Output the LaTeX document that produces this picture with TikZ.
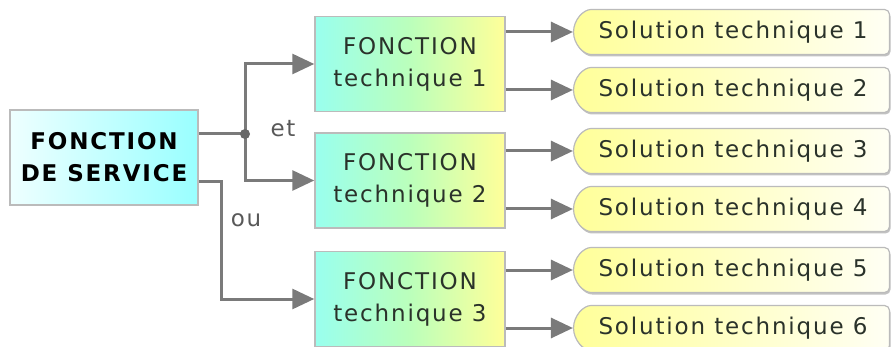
\documentclass[tikz,border=0pt]{standalone}
\usepackage{fontspec}
\usepackage{tikz}
\usetikzlibrary{arrows.meta,shapes.misc,shadows}
\newfontfamily\boxfont[LetterSpace=8]{DejaVu Sans}

\definecolor{svcL}{HTML}{EEFFFF}
\definecolor{svcR}{HTML}{99FFFF}
\definecolor{techA}{HTML}{99FFEE}
\definecolor{techB}{HTML}{BBFFBB}
\definecolor{techC}{HTML}{FFFF99}
\definecolor{solA}{HTML}{FFFF99}
\definecolor{solB}{HTML}{FFFFF4}
\definecolor{boxline}{HTML}{BBBBBB}
\definecolor{linkgray}{HTML}{7A7A7A}
\definecolor{inkgray}{HTML}{2A322A}

% cyan -> green -> yellow, the path covers 25bp..75bp
\pgfdeclarehorizontalshading{techshade}{100bp}{color(0bp)=(techA); color(25bp)=(techA);
  color(50bp)=(techB); color(75bp)=(techC); color(100bp)=(techC)}

\begin{document}
\begin{tikzpicture}[x=1pt,y=-1pt,
    every node/.style={font=\boxfont\fontsize{23}{32}\selectfont, align=center, inner sep=0pt, text=inkgray},
    fonction/.style={draw=boxline, line width=1.5pt, minimum width=190pt, minimum height=95pt, shading=techshade},
    service/.style={fonction, minimum width=188pt, left color=svcL, right color=svcR, text=black,
      font=\boxfont\bfseries\fontsize{23}{32}\selectfont},
    solution/.style={rounded rectangle, rounded rectangle right arc=none, rounded corners=5pt,
      draw=boxline, line width=1.2pt, minimum width=316pt, minimum height=45pt,
      left color=solA, right color=solB,
      drop shadow={shadow xshift=1pt, shadow yshift=-2pt, fill=boxline, opacity=0.9}},
    wire/.style={draw=linkgray, line width=3pt},
    link/.style={wire, -{Triangle[length=22pt,width=20pt]}},
    lbl/.style={text=black!65}]
  \useasboundingbox (0,0) rectangle (893,347);

  \node[service] (svc) at (104,157.5) {FONCTION\\DE SERVICE};

  \node[fonction] (t1) at (410,64) {FONCTION\\technique 1};
  \node[fonction] (t2) at (410,180.5) {FONCTION\\technique 2};
  \node[fonction] (t3) at (410,299) {FONCTION\\technique 3};

  \node[solution] (s1) at (733,32) {Solution technique 1};
  \node[solution] (s2) at (733,90) {Solution technique 2};
  \node[solution] (s3) at (733,151) {Solution technique 3};
  \node[solution] (s4) at (733,209) {Solution technique 4};
  \node[solution] (s5) at (733,270) {Solution technique 5};
  \node[solution] (s6) at (733,328) {Solution technique 6};

  % "et" branch
  \coordinate (j) at (245,134);
  \draw[wire] (svc.east |- j) -- (j);
  \draw[link] (j) |- (t1.west);
  \draw[link] (j) |- (t2.west);
  \fill[linkgray!85!black] (j) circle (5);
  \node[lbl] (et) at (283,129) {et};

  % "ou" branch
  \coordinate (k) at (221,182);
  \draw[link] (svc.east |- k) -- (k) |- (t3.west);
  \node[lbl] (ou) at (246,220) {ou};

  % solutions
  \draw[link] (t1.east |- s1.west) -- (s1.west);
  \draw[link] (t1.east |- s2.west) -- (s2.west);
  \draw[link] (t2.east |- s3.west) -- (s3.west);
  \draw[link] (t2.east |- s4.west) -- (s4.west);
  \draw[link] (t3.east |- s5.west) -- (s5.west);
  \draw[link] (t3.east |- s6.west) -- (s6.west);
\end{tikzpicture}
\end{document}
